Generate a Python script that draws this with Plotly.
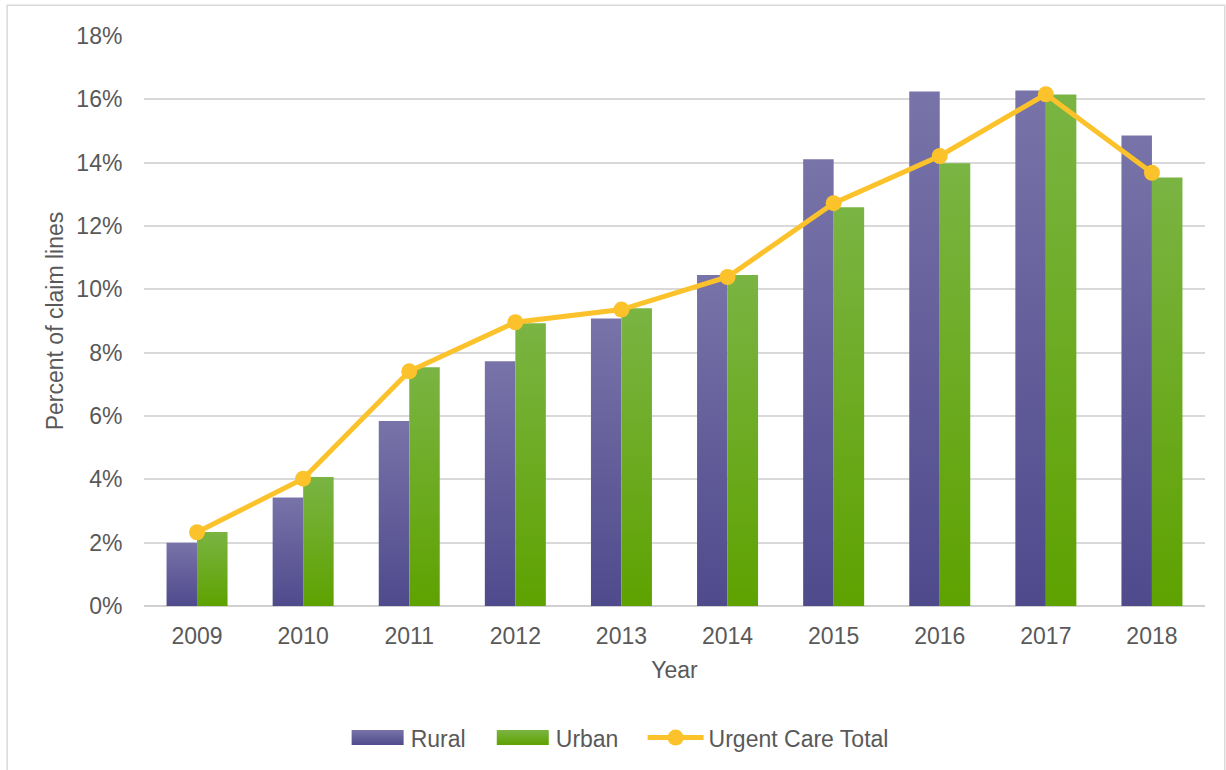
import plotly.graph_objects as go

years = ["2009", "2010", "2011", "2012", "2013", "2014", "2015", "2016", "2017", "2018"]
rural = [0.0200, 0.0343, 0.0584, 0.0773, 0.0908, 0.1045, 0.1411, 0.1625, 0.1628, 0.1486]
urban = [0.0234, 0.0407, 0.0754, 0.0893, 0.0940, 0.1045, 0.1259, 0.1398, 0.1615, 0.1353]
total = [0.0233, 0.0402, 0.0741, 0.0896, 0.0936, 0.1039, 0.1272, 0.1421, 0.1616, 0.1368]
y_ticks = [0, 0.02, 0.04, 0.06, 0.08, 0.10, 0.12, 0.14, 0.16, 0.18]

FONT = "Liberation Sans, Arial, sans-serif"
TXT = "#595959"
FS = 23
PAD = "\u00a0\u00a0\u00a0"

fig = go.Figure()
fig.add_trace(go.Bar(name="Rural" + PAD, x=years, y=rural, marker=dict(color="#625d9b", line=dict(width=0))))
fig.add_trace(go.Bar(name="Urban" + PAD, x=years, y=urban, marker=dict(color="#67a91a", line=dict(width=0))))
fig.add_trace(go.Scatter(name="Urgent Care Total", x=years, y=total, mode="lines+markers",
                         line=dict(color="#fcc22b", width=5),
                         marker=dict(color="#fcc22b", size=16)))

fig.update_layout(
    width=1226, height=770,
    margin=dict(l=144, r=21, t=36, b=164),
    paper_bgcolor="white", plot_bgcolor="white",
    font=dict(family=FONT, size=FS, color=TXT),
    barmode="group", bargap=0.425, bargroupgap=0,
    showlegend=True,
    legend=dict(orientation="h", xref="container", yref="container", x=0.505, xanchor="center",
                y=0.042, yanchor="middle", font=dict(size=FS, color=TXT), itemwidth=56,
                traceorder="normal", tracegroupgap=0),
    shapes=[dict(type="rect", xref="paper", yref="paper", x0=-0.129, x1=1.0186, y0=-0.3, y1=1.054,
                 line=dict(color="#d9d9d9", width=1.5), layer="below")],
)
fig.update_xaxes(range=[-0.5, len(years) - 0.5], showgrid=False, showline=False, ticks="outside", ticklen=9,
                 tickcolor="rgba(0,0,0,0)", tickfont=dict(size=FS, color=TXT),
                 title=dict(text="Year", font=dict(size=FS, color=TXT), standoff=14))
fig.update_yaxes(range=[0, 0.18], tickvals=y_ticks, tickformat=".0%", showgrid=True, gridcolor="#d9d9d9",
                 gridwidth=1.5, zeroline=True, zerolinecolor="#d0d0d0", zerolinewidth=2,
                 ticks="outside", ticklen=16, tickcolor="rgba(0,0,0,0)",
                 tickfont=dict(size=FS, color=TXT),
                 title=dict(text="Percent of claim lines", font=dict(size=FS, color=TXT), standoff=6))

post = """
document.body.style.margin = '0';
var gd = document.getElementById('{plot_id}');
function addGrad(svg, id, c1, c2){
  var ns = 'http://www.w3.org/2000/svg';
  if (svg.querySelector('#' + id)) return;
  var defs = svg.querySelector('defs');
  if (!defs) { defs = document.createElementNS(ns, 'defs'); svg.insertBefore(defs, svg.firstChild); }
  var g = document.createElementNS(ns, 'linearGradient');
  g.setAttribute('id', id); g.setAttribute('x1', '0'); g.setAttribute('y1', '0');
  g.setAttribute('x2', '0'); g.setAttribute('y2', '1');
  var s1 = document.createElementNS(ns, 'stop'); s1.setAttribute('offset', '0'); s1.setAttribute('stop-color', c1);
  var s2 = document.createElementNS(ns, 'stop'); s2.setAttribute('offset', '1'); s2.setAttribute('stop-color', c2);
  g.appendChild(s1); g.appendChild(s2); defs.appendChild(g);
}
function applyGrad(){
  var svg = gd.querySelector('svg.main-svg');
  if (!svg) return;
  addGrad(svg, 'gRural', '#7873a8', '#4f4a8c');
  addGrad(svg, 'gUrban', '#7ab443', '#5ea200');
  var ids = ['gRural', 'gUrban'];
  var traces = gd.querySelectorAll('.barlayer .trace.bars');
  traces.forEach(function(t, i){
    if (i < 2) t.querySelectorAll('path').forEach(function(p){ p.style.fill = 'url(#' + ids[i] + ')'; });
  });
  var leg = gd.querySelectorAll('.legend .traces');
  leg.forEach(function(t, i){
    if (i < 2) t.querySelectorAll('.legendpoints path').forEach(function(p){
      p.style.fill = 'url(#' + ids[i] + ')';
      p.setAttribute('d', 'M26,7.5H-26V-7.5H26Z');
    });
  });
}
applyGrad();
gd.on('plotly_afterplot', applyGrad);
"""

fig.write_html("out.html", post_script=post, config={"displayModeBar": False})
